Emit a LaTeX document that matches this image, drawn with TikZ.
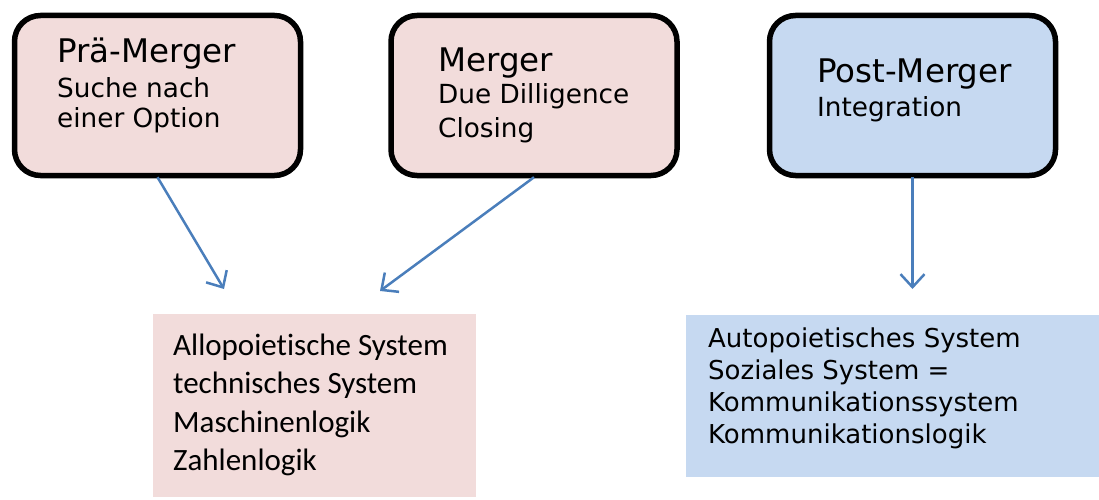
\documentclass[tikz,border=0pt]{standalone}
\usepackage{fontspec}
\setmainfont{DejaVu Sans}
\newfontfamily\calibrifont[Ligatures=NoCommon]{Carlito}
\usetikzlibrary{arrows.meta,calc}
\definecolor{phasepink}{HTML}{F2DCDB}
\definecolor{phaseblue}{HTML}{C6D9F1}
\definecolor{arrowblue}{HTML}{4A7EBB}
\tikzset{
  x=1pt, y=-1pt,
  phasebox/.style={draw=black, line width=5.5pt, rounded corners=26pt,
    minimum width=286pt, minimum height=160pt, inner sep=0pt},
  sysbox/.style={draw=none, inner sep=0pt},
  % multi-line texts are placed by the baseline of their last line
  titletext/.style={anchor=base west, inner sep=0pt, font=\fontsize{32.5}{32.5}\selectfont},
  subtext/.style={anchor=base west, inner sep=0pt, align=left,
    font=\fontsize{26.3}{31}\selectfont},
  flow/.style={draw=arrowblue, line width=2.5pt,
    -{Straight Barb[length=13pt, width=24pt, line width=2.5pt]}}
}
\begin{document}
\begin{tikzpicture}
\useasboundingbox (0,0) rectangle (1099,500);

% phase boxes
\node[phasebox, fill=phasepink] (pre)  at (157.5,95.5) {};
\node[phasebox, fill=phasepink] (mer)  at (534,95.5) {};
\node[phasebox, fill=phaseblue] (post) at (912.5,95.5) {};

\node[titletext] (preT) at (57,63) {Prä-Merger};
\node[subtext, font=\fontsize{26.3}{30}\selectfont] (preS) at (57,128) {Suche nach\\einer Option};

\node[titletext] (merT) at (438,72) {Merger};
\node[subtext, font=\fontsize{26.3}{33}\selectfont] (merS) at (438,137) {Due Dilligence\\Closing};

\node[titletext] (postT) at (817,83) {Post-Merger};
\node[subtext] (postS) at (817,117) {Integration};

% system boxes
\path[fill=phasepink] (153,314) rectangle (476,497);
\node[sysbox, minimum width=323pt, minimum height=183pt] (allo) at (314.5,405.5) {};
\node[anchor=base west, inner sep=0pt, align=left,
      font=\calibrifont\fontsize{31}{38.5}\selectfont] (alloT) at (173,470.5)
  {Allopoietische System\\technisches System\\Maschinenlogik\\Zahlenlogik};

\path[fill=phaseblue] (686,315) rectangle (1099,477);
\node[sysbox, minimum width=413pt, minimum height=162pt] (auto) at (892.5,396) {};
\node[anchor=base west, inner sep=0pt, align=left,
      font=\fontsize{26}{32}\selectfont] (autoT) at (708,443)
  {Autopoietisches System\\Soziales System =\\Kommunikationssystem\\Kommunikationslogik};

% connectors
\coordinate (e1) at (224,289);
\coordinate (e2) at (380,291);
\coordinate (e3) at (912.5,289);
\draw[flow] ($(pre.south)+(0,-1)$) -- (e1);
\draw[flow] ($(mer.south)+(0,-1)$) -- (e2);
\draw[flow] ($(post.south)+(0,-1)$) -- (e3);
\end{tikzpicture}
\end{document}
